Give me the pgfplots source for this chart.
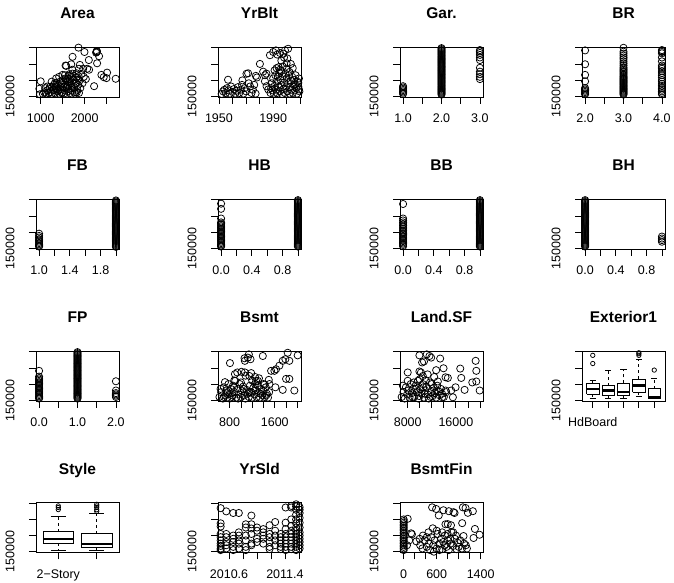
\documentclass[border=0pt]{standalone}
\usepackage{fontspec}
\setmainfont{Liberation Sans}
\usepackage{pgfplots}
\pgfplotsset{compat=1.18}
\newcommand{\tickfont}{\fontsize{12.5}{14}\selectfont}
\newcommand{\titlefont}{\fontsize{15.5}{18}\selectfont\bfseries}
\pgfplotsset{
  panel/.style={
    scale only axis, width=83pt, height=50pt, anchor=south west,
    ymin=147.5, ymax=302.5, ytick={150,200,250,300}, yticklabels={150000,,,},
    tick pos=left, tick align=outside, major tick length=7pt,
    scaled ticks=false,
    axis line style={line width=0.8pt},
    every tick/.style={black, line width=0.8pt},
    tick label style={font=\tickfont},
    yticklabel style={rotate=90, anchor=south},
    xticklabel style={anchor=base},
    xticklabel shift=19pt, yticklabel shift=11pt,
    every axis title/.style={at={(0.5,1)}, anchor=base, yshift=28pt, font=\titlefont},
    /pgf/number format/assume math mode=true,
  },
  pts/.style={only marks, mark=o, mark size=3.6pt, black, mark options={line width=0.75pt}},
  bxl/.style={black, line width=0.8pt, no marks},
  bxd/.style={black, line width=0.8pt, dashed, no marks},
  bxm/.style={black, line width=2.4pt, no marks},
  bxo/.style={only marks, mark=o, mark size=2.2pt, black, mark options={line width=0.75pt}},
}
\begin{document}
\begin{tikzpicture}
\useasboundingbox (0pt,0pt) rectangle (674pt,583pt);
% ---------------- Row 1 ----------------
\begin{axis}[panel, at={(36pt,486pt)}, title={Area}, xmin=893, xmax=2780,
  xtick={1000,1500,2000,2500}, xticklabels={1000,,2000,}]
\addplot[pts] coordinates {(2267,287.3)(2275,290)(2260,285)(2280,288)(1859,300.5)(1995,287)(1724,272)(2094,262)(2327,274)(2282,252)(1694,249)(1890,247)(1565,245)(1965,235)(2057,235)(2100,232)(2380,216)(2509,223)(2433,209)(2494,206)(2705,204)(2214,181)(2026,203)(999,196)(969,173)(984,156)(1210,179)(1323,191)(1497,216)(1640,213)(1814,221)(1927,219)(1852,201)(1580,244)(1720,232)(1870,235)
(1050,157)(1080,162)(1120,158)(1150,168)(1180,160)(1200,172)(1220,163)(1250,158)(1260,178)(1280,168)(1300,185)(1320,160)(1340,175)(1360,190)(1380,165)(1400,182)(1420,158)(1440,195)(1450,172)(1470,186)(1490,162)(1500,200)(1520,178)(1540,168)(1560,192)(1580,157)(1600,205)(1610,182)(1630,172)(1650,195)(1670,160)(1690,210)(1700,185)(1720,168)(1740,200)(1760,178)(1780,158)(1800,192)(1810,208)(1830,170)(1850,185)(1870,160)(1880,198)(1350,205)(1420,210)(1250,195)(1550,215)(1650,218)(1750,212)(1450,178)(1530,158)(1620,165)(1710,175)(1820,162)(1900,175)(1950,190)(1980,210)(1150,180)(1100,175)(1300,170)
(1370,172)(1480,190)(1590,180)(1680,190)(1780,188)(1560,205)(1660,203)(1860,212)(1400,168)(1620,196)(1720,220)(1480,160)(1330,180)(1770,163)};
\end{axis}
\begin{axis}[panel, at={(218pt,486pt)}, title={YrBlt}, xmin=1949.3, xmax=2010.5,
  xtick={1950,1960,1970,1980,1990,2000,2010}, xticklabels={1950,,,,1990,,}]
\addplot[pts] coordinates {(1952,157)(1953,165)(1954,170)(1955,160)(1956,175)(1956.7,201)(1957,168)(1958,158)(1959,180)(1960,163)(1961,172)(1962,158)(1963,167)(1964,178)(1965,160)(1966,170)(1967,185)(1967.3,199)(1968,158)(1969,175)(1970,165)(1970.3,219.5)(1971.5,221)(1972,190)(1973,180)(1974,160)(1975,170)(1976,185)(1977,158)(1977.2,213)(1978,208)(1980.2,250)(1982.6,226)(1983.9,196)(1985.1,181)(1986.3,171)(1984,215)(1985,220)
(1987.6,277)(1990,287)(1992,292)(1993,279)(1995,284)(1998.7,292)(2001,297)(1997.4,282)(1999.9,252)(2000.4,267)(1992.5,237)(1995,232)(1997,242)(2004.4,237)(2006,186)(2008.5,191)(2009,171)(1996,260)(2002,225)(2003,250)(1998,270)
(1988,160)(1988.5,175)(1989,190)(1989.5,168)(1990,205)(1990.5,158)(1991,182)(1991.5,215)(1992,170)(1992.5,195)(1993,160)(1993.5,210)(1994,178)(1994.5,222)(1995,165)(1995.5,200)(1996,185)(1996.5,157)(1997,212)(1997.5,172)(1998,192)(1998.5,160)(1999,220)(1999.5,180)(2000,205)(2000.5,165)(2001,190)(2001.5,215)(2002,158)(2002.5,178)(2003,198)(2003.5,170)(2004,210)(2004.5,160)(2005,185)(2005.5,200)(2006,168)(2006.5,215)(2007,175)(2007.5,158)(2008,195)(2008.5,180)(2009,205)(2009.3,165)(1991,230)(1994,240)(2000,235)(1996,228)};
\end{axis}
\begin{axis}[panel, at={(400pt,486pt)}, title={Gar.}, xmin=0.92, xmax=3.08,
  xtick={1,1.5,2,2.5,3}, xticklabels={1.0,,2.0,,3.0}]
\addplot[pts] coordinates {(1,157)(1,161)(1,165)(1,169)(1,173)(1,177)(1,181)
(2,155)(2,158)(2,161)(2,164)(2,167)(2,170)(2,173)(2,176)(2,179)(2,182)(2,185)(2,188)(2,191)(2,194)(2,197)(2,200)(2,203)(2,206)(2,209)(2,212)(2,215)(2,218)(2,221)(2,224)(2,227)(2,230)(2,233)(2,236)(2,239)(2,242)(2,245)(2,248)(2,251)(2,254)(2,257)(2,260)(2,263)(2,266)(2,269)(2,272)(2,275)(2,278)(2,281)(2,284)(2,287)(2,290)(2,293)(2,296)(2,299)
(3,203)(3,210)(3,218)(3,226)(3,238)(3,262)(3,270)(3,278)(3,284)(3,289)(3,293)};
\end{axis}
\begin{axis}[panel, at={(582pt,486pt)}, title={BR}, xmin=1.92, xmax=4.08,
  xtick={2,2.5,3,3.5,4}, xticklabels={2.0,,3.0,,4.0}]
\addplot[pts] coordinates {(2,292)(2,249)(2,216)(2,196)(2,175)(2,171)(2,167)(2,163)(2,159)(2,156)
(3,300)(3,288)(3,282)(3,276)(3,270)(3,265)(3,258)(3,252)(3,246)(3,240)(3,236)(3,232)(3,228)(3,224)(3,220)(3,216)(3,212)(3,209)(3,206)(3,203)(3,200)(3,197)(3,194)(3,191)(3,188)(3,185)(3,182)(3,179)(3,176)(3,173)(3,170)(3,167)(3,164)(3,161)(3,158)(3,155)
(4,293)(4,290)(4,287)(4,283)(4,270)(4,258)(4,245)(4,240)(4,235)(4,228)(4,222)(4,215)(4,208)(4,200)(4,195)(4,188)(4,182)(4,175)(4,170)(4,165)(4,160)(4,156)};
\end{axis}
% ---------------- Row 2 ----------------
\begin{axis}[panel, at={(36pt,334pt)}, title={FB}, xmin=0.96, xmax=2.04,
  xtick={1,1.2,1.4,1.6,1.8,2}, xticklabels={1.0,,1.4,,1.8,}]
\addplot[pts] coordinates {(1,195)(1,188)(1,183)(1,178)(1,174)(1,170)(1,166)(1,162)(1,158)(1,155)
(2,154)(2,157)(2,160)(2,163)(2,166)(2,169)(2,172)(2,175)(2,178)(2,181)(2,184)(2,187)(2,190)(2,193)(2,196)(2,199)(2,202)(2,205)(2,208)(2,211)(2,214)(2,217)(2,220)(2,223)(2,226)(2,229)(2,232)(2,235)(2,238)(2,241)(2,244)(2,247)(2,250)(2,253)(2,256)(2,259)(2,262)(2,265)(2,268)(2,271)(2,274)(2,277)(2,280)(2,283)(2,286)(2,289)(2,292)(2,295)(2,298)};
\end{axis}
\begin{axis}[panel, at={(218pt,334pt)}, title={HB}, xmin=-0.04, xmax=1.04,
  xtick={0,0.2,0.4,0.6,0.8,1}, xticklabels={0.0,,0.4,,0.8,}]
\addplot[pts] coordinates {(0,288)(0,272)(0,242)(0,230)(0,226)(0,222)(0,218)(0,214)(0,210)(0,206)(0,202)(0,198)(0,194)(0,190)(0,186)(0,182)(0,178)(0,174)(0,170)(0,166)(0,162)(0,158)(0,155)
(1,155)(1,158)(1,161)(1,164)(1,167)(1,170)(1,173)(1,176)(1,179)(1,182)(1,185)(1,188)(1,191)(1,194)(1,197)(1,200)(1,203)(1,206)(1,209)(1,212)(1,215)(1,218)(1,221)(1,224)(1,227)(1,230)(1,233)(1,236)(1,239)(1,242)(1,245)(1,248)(1,251)(1,254)(1,257)(1,260)(1,263)(1,266)(1,269)(1,272)(1,275)(1,278)(1,281)(1,284)(1,287)(1,290)(1,293)(1,296)(1,299)};
\end{axis}
\begin{axis}[panel, at={(400pt,334pt)}, title={BB}, xmin=-0.04, xmax=1.04,
  xtick={0,0.2,0.4,0.6,0.8,1}, xticklabels={0.0,,0.4,,0.8,}]
\addplot[pts] coordinates {(0,287)(0,242)(0,236)(0,230)(0,225)(0,220)(0,215)(0,210)(0,205)(0,200)(0,196)(0,192)(0,188)(0,184)(0,180)(0,176)(0,172)(0,168)(0,164)(0,160)(0,156)
(1,155)(1,158)(1,161)(1,164)(1,167)(1,170)(1,173)(1,176)(1,179)(1,182)(1,185)(1,188)(1,191)(1,194)(1,197)(1,200)(1,203)(1,206)(1,209)(1,212)(1,215)(1,218)(1,221)(1,224)(1,227)(1,230)(1,233)(1,236)(1,239)(1,242)(1,245)(1,248)(1,251)(1,254)(1,257)(1,260)(1,263)(1,266)(1,269)(1,272)(1,275)(1,278)(1,281)(1,284)(1,287)(1,290)(1,293)(1,296)(1,299)};
\end{axis}
\begin{axis}[panel, at={(582pt,334pt)}, title={BH}, xmin=-0.04, xmax=1.04,
  xtick={0,0.2,0.4,0.6,0.8,1}, xticklabels={0.0,,0.4,,0.8,}]
\addplot[pts] coordinates {(0,155)(0,158)(0,161)(0,164)(0,167)(0,170)(0,173)(0,176)(0,179)(0,182)(0,185)(0,188)(0,191)(0,194)(0,197)(0,200)(0,203)(0,206)(0,209)(0,212)(0,215)(0,218)(0,221)(0,224)(0,227)(0,230)(0,233)(0,236)(0,239)(0,242)(0,245)(0,248)(0,251)(0,254)(0,257)(0,260)(0,263)(0,266)(0,269)(0,272)(0,275)(0,278)(0,281)(0,284)(0,287)(0,290)(0,293)(0,296)(0,299)
(1,186)(1,180)(1,175)(1,170)};
\end{axis}
% ---------------- Row 3 ----------------
\begin{axis}[panel, at={(36pt,182pt)}, title={FP}, xmin=-0.08, xmax=2.08,
  xtick={0,0.5,1,1.5,2}, xticklabels={0.0,,1.0,,2.0}]
\addplot[pts] coordinates {(0,241)(0,223)(0,218)(0,214)(0,210)(0,206)(0,202)(0,198)(0,194)(0,190)(0,186)(0,182)(0,178)(0,174)(0,170)(0,166)(0,162)(0,158)(0,155)
(1,155)(1,158)(1,161)(1,164)(1,167)(1,170)(1,173)(1,176)(1,179)(1,182)(1,185)(1,188)(1,191)(1,194)(1,197)(1,200)(1,203)(1,206)(1,209)(1,212)(1,215)(1,218)(1,221)(1,224)(1,227)(1,230)(1,233)(1,236)(1,239)(1,242)(1,245)(1,248)(1,251)(1,254)(1,257)(1,260)(1,263)(1,266)(1,269)(1,272)(1,275)(1,278)(1,281)(1,284)(1,287)(1,290)(1,293)(1,296)(1,299)
(2,208.7)(2,180)(2,172)(2,168)(2,164)(2,160)};
\end{axis}
\begin{axis}[panel, at={(218pt,182pt)}, title={Bsmt}, xmin=594, xmax=2065,
  xtick={800,1000,1200,1400,1600,1800,2000}, xticklabels={800,,,,1600,,}]
\addplot[pts] coordinates {(620,160)(650,175)(680,155)(700,190)(720,165)(740,180)(760,158)(780,200)(800,170)(820,185)(840,160)(860,195)(880,175)(900,210)(920,158)(940,185)(960,168)(980,200)(1000,160)(1020,178)(1040,192)(1060,165)(1080,155)(1100,182)(1120,170)(1140,160)(1160,195)(1180,175)(1200,158)(1220,188)(1240,168)(1260,180)(1280,160)(1300,195)(1320,172)(1340,158)(1360,185)(1380,165)(1400,178)(1420,160)(1440,190)(1460,170)(1480,158)(1500,175)(700,160)(760,175)(850,165)(950,155)(1050,185)(1150,175)(1250,200)(1350,170)(1450,165)(800,155)(880,190)(1000,205)(640,185)(1300,210)(1400,200)
(806,265)(894,231)(935,236)(1011,238)(1070,236)(1141,292)(1123,282)(1064,280)(1070,272)(1170,277)(1182,234)(1388,287)(1535,241)(1594,241)(1623,246)(1682,257)(1741,272)(1788,277)(1829,297)(1858,272)(2006,289)(1800,216)(1858,216)(1947,180)(1741,182)(1611,190)(1494,213)(1506,200)(1417,198)(882,211)(717,206)(1082,226)(1200,211)(1270,209)(1150,225)(1250,222)(1320,218)};
\end{axis}
\begin{axis}[panel, at={(400pt,182pt)}, title={Land.SF}, xmin=6722, xmax=20500,
  xtick={8000,10000,12000,14000,16000,18000,20000}, xticklabels={8000,,,,16000,,}]
\addplot[pts] coordinates {(7000,160)(7300,175)(7500,155)(7700,190)(7900,168)(8100,180)(8300,158)(8500,200)(8700,172)(8900,185)(9100,160)(9300,195)(9500,175)(9700,210)(9900,163)(10100,185)(10300,170)(10500,200)(10700,158)(10900,180)(11100,192)(11300,168)(11500,155)(11700,205)(11900,175)(12100,162)(12300,188)(12500,172)(12700,158)(12900,195)(13100,178)(13300,165)(13500,185)(13700,170)(14000,160)(14300,180)(7200,195)(8000,210)(9000,205)(10000,215)(11000,212)(12000,200)(13000,208)(8800,160)(9800,155)(10800,170)(11800,160)(12800,180)(9400,185)(10600,190)
(9944,289)(11167,292)(11611,287)(11889,282)(10389,267)(10700,270)(13389,279)(8000,236)(9944,239)(10200,236)(12722,243)(13945,249)(16722,248)(19278,272)(19389,241)(18722,205)(19389,208)(19945,180)(17445,182)(16889,219)(15945,190)(15222,180)(14389,175)(15500,159)(13722,159)(14278,221)(14667,219)(10500,225)(11300,230)(12400,222)};
\end{axis}
\begin{axis}[panel, at={(582pt,182pt)}, title={Exterior1}, xmin=0.3, xmax=5.7,
  xtick={1,2,3,4,5}, xticklabels={HdBoard,,,,}]
% category 1
\addplot[bxl] coordinates {(0.6,167.9)(1.4,167.9)(1.4,202.5)(0.6,202.5)(0.6,167.9)};
\addplot[bxm] coordinates {(0.6,184)(1.4,184)};
\addplot[bxd] coordinates {(1,202.5)(1,212.7)};
\addplot[bxd] coordinates {(1,167.9)(1,154.6)};
\addplot[bxl] coordinates {(0.8,212.7)(1.2,212.7)};
\addplot[bxl] coordinates {(0.8,154.6)(1.2,154.6)};
\addplot[bxo] coordinates {(1,289)(1,263.7)};
% category 2
\addplot[bxl] coordinates {(1.6,164.8)(2.4,164.8)(2.4,195.4)(1.6,195.4)(1.6,164.8)};
\addplot[bxm] coordinates {(1.6,180)(2.4,180)};
\addplot[bxd] coordinates {(2,195.4)(2,241.3)};
\addplot[bxd] coordinates {(2,164.8)(2,154.6)};
\addplot[bxl] coordinates {(1.8,241.3)(2.2,241.3)};
\addplot[bxl] coordinates {(1.8,154.6)(2.2,154.6)};
% category 3
\addplot[bxl] coordinates {(2.6,164.8)(3.4,164.8)(3.4,202.5)(2.6,202.5)(2.6,164.8)};
\addplot[bxm] coordinates {(2.6,175)(3.4,175)};
\addplot[bxd] coordinates {(3,202.5)(3,246.4)};
\addplot[bxd] coordinates {(3,164.8)(3,156.6)};
\addplot[bxl] coordinates {(2.8,246.4)(3.2,246.4)};
\addplot[bxl] coordinates {(2.8,156.6)(3.2,156.6)};
% category 4
\addplot[bxl] coordinates {(3.6,175)(4.4,175)(4.4,215.8)(3.6,215.8)(3.6,175)};
\addplot[bxm] coordinates {(3.6,195.4)(4.4,195.4)};
\addplot[bxd] coordinates {(4,215.8)(4,277)};
\addplot[bxd] coordinates {(4,175)(4,161.7)};
\addplot[bxl] coordinates {(3.8,277)(4.2,277)};
\addplot[bxl] coordinates {(3.8,161.7)(4.2,161.7)};
\addplot[bxo] coordinates {(4,297)(4,294)(4,289)};
% category 5
\addplot[bxl] coordinates {(4.6,155.5)(5.4,155.5)(5.4,185.2)(4.6,185.2)(4.6,155.5)};
\addplot[bxm] coordinates {(4.6,158)(5.4,158)};
\addplot[bxd] coordinates {(5,185.2)(5,218.9)};
\addplot[bxl] coordinates {(4.8,218.9)(5.2,218.9)};
\addplot[bxl] coordinates {(4.8,154.6)(5.2,154.6)};
\addplot[bxo] coordinates {(5,243.3)};
\end{axis}
% ---------------- Row 4 ----------------
\begin{axis}[panel, at={(36pt,30.5pt)}, title={Style}, xmin=0.42, xmax=2.58,
  xtick={1,2}, xticklabels={2−Story,}]
% category 1
\addplot[bxl] coordinates {(0.6,175.5)(1.4,175.5)(1.4,212.5)(0.6,212.5)(0.6,175.5)};
\addplot[bxm] coordinates {(0.6,188.5)(1.4,188.5)};
\addplot[bxd] coordinates {(1,212.5)(1,260.5)};
\addplot[bxd] coordinates {(1,175.5)(1,155.5)};
\addplot[bxl] coordinates {(0.8,260.5)(1.2,260.5)};
\addplot[bxl] coordinates {(0.8,155.5)(1.2,155.5)};
\addplot[bxo] coordinates {(1,292)(1,287)(1,280.5)};
% category 2
\addplot[bxl] coordinates {(1.6,162.5)(2.4,162.5)(2.4,205.5)(1.6,205.5)(1.6,162.5)};
\addplot[bxm] coordinates {(1.6,173.5)(2.4,173.5)};
\addplot[bxd] coordinates {(2,205.5)(2,268.5)};
\addplot[bxd] coordinates {(2,162.5)(2,152.5)};
\addplot[bxl] coordinates {(1.8,268.5)(2.2,268.5)};
\addplot[bxl] coordinates {(1.8,152.5)(2.2,152.5)};
\addplot[bxo] coordinates {(2,297)(2,292)(2,287)(2,280)(2,275)};
\end{axis}
\begin{axis}[panel, at={(218pt,30.5pt)}, title={YrSld}, xmin=2010.442, xmax=2011.63,
  xtick={2010.6,2010.8,2011.0,2011.2,2011.4,2011.6}, xticklabels={2010.6,,,,2011.4,}]
\addplot[pts] coordinates {(2010.48,285)(2010.48,238)(2010.48,228)(2010.48,205)(2010.48,195)(2010.48,185)(2010.48,175)(2010.48,168)(2010.48,160)(2010.48,155)
(2010.56,275)(2010.56,205)(2010.56,195)(2010.56,180)(2010.56,170)(2010.56,160)
(2010.66,270)(2010.66,200)(2010.66,190)(2010.66,180)(2010.66,165)(2010.66,155)
(2010.74,270)(2010.74,210)(2010.74,200)(2010.74,185)(2010.74,175)(2010.74,160)
(2010.84,235)(2010.84,225)(2010.84,200)(2010.84,185)(2010.84,165)(2010.84,155)
(2010.92,262)(2010.92,235)(2010.92,222)(2010.92,205)(2010.92,175)(2010.92,170)
(2011.00,225)(2011.00,215)(2011.00,190)(2011.00,180)
(2011.09,220)(2011.09,210)(2011.09,200)(2011.09,190)(2011.09,175)
(2011.18,232)(2011.18,205)(2011.18,195)(2011.18,180)(2011.18,165)(2011.18,158)
(2011.26,242)(2011.26,215)(2011.26,200)(2011.26,185)(2011.26,170)
(2011.34,205)(2011.34,195)(2011.34,185)(2011.34,175)(2011.34,165)(2011.34,158)
(2011.41,287)(2011.41,240)(2011.41,220)(2011.41,205)(2011.41,195)(2011.41,185)(2011.41,175)(2011.41,165)(2011.41,155)
(2011.49,292)(2011.49,287)(2011.49,250)(2011.49,230)(2011.49,215)(2011.49,205)(2011.49,195)(2011.49,185)(2011.49,175)(2011.49,165)(2011.49,158)
(2011.56,297)(2011.56,290)(2011.56,280)(2011.56,265)(2011.56,250)(2011.56,238)(2011.56,225)(2011.56,215)(2011.56,205)(2011.56,195)(2011.56,185)(2011.56,175)(2011.56,165)(2011.56,155)
(2011.61,288)(2011.61,280)(2011.61,270)(2011.61,255)(2011.61,240)(2011.61,225)(2011.61,210)(2011.61,200)(2011.61,190)(2011.61,180)(2011.61,170)(2011.61,160)};
\end{axis}
\begin{axis}[panel, at={(400pt,30.5pt)}, title={BsmtFin}, xmin=-67, xmax=1442.6,
  xtick={0,200,400,600,800,1000,1200,1400}, xticklabels={0,,,600,,,,1400}]
\addplot[pts] coordinates {(0,250)(0,245)(0,240)(0,235)(0,230)(0,225)(0,220)(0,215)(0,210)(0,205)(0,200)(0,195)(0,190)(0,185)(0,180)(0,175)(0,170)(0,165)(0,160)(0,155)
(73,252)(134,207)(150,204)(290,190)(230,182)(517,287.5)(590,282.5)(638,262.5)(723,278.5)(821,275.5)(906,272.5)(925,270)(1076,287.5)(1125,285.5)(1167,270.5)(1258,275.5)(1064,238.5)(1295,220.5)(1380,202.5)(1271,192.5)(1088,198.5)(802,235.5)(760,235)(860,232)(900,210)(529,222.5)(100,185)(60,170)(420,195)(350,200)
(300,170)(340,160)(380,185)(420,165)(460,175)(480,155)(500,195)(540,170)(560,185)(600,160)(620,205)(650,175)(680,190)(700,158)(720,180)(750,200)(780,165)(800,185)(820,155)(850,175)(870,210)(900,168)(930,190)(960,158)(980,178)(1000,165)(1030,185)(1060,160)(1100,175)(1130,170)(1150,160)(600,215)(700,210)(800,205)(450,210)(550,150)(650,155)(750,170)(850,190)(950,200)};
\end{axis}
\end{tikzpicture}
\end{document}
